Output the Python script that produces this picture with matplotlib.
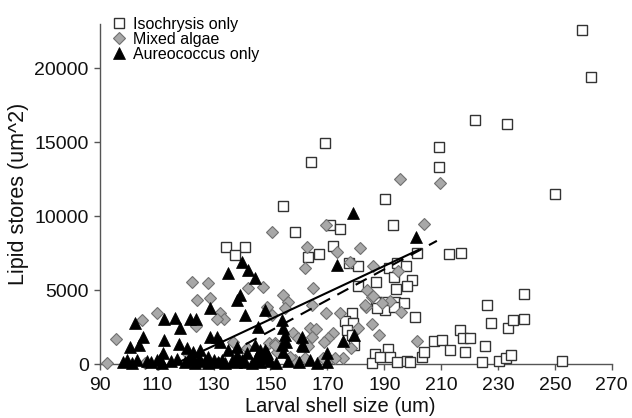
import numpy as np
import matplotlib
matplotlib.use("Agg")
import matplotlib.pyplot as plt

plt.rcParams['font.family'] = ['Liberation Sans', 'DejaVu Sans']

# ---------------- datos ----------------
# Isochrysis only (cuadrados)
iso_x = [259.5, 262.6, 233, 222, 250, 169, 164.2, 209.2, 209.2, 190.2, 154.5, 158.6, 171, 174.4, 193,
         134.3, 141, 137.5, 201.5, 212.7, 217, 163.1, 167, 172, 177.6, 180.7, 191.6, 194.4, 197.6,
         193.4, 199.7, 198, 187, 180.7, 194, 187, 190.2, 193.7, 197, 190.2, 200.8, 187.4, 193.4,
         178.6, 176.1, 178.9, 176.8, 178.6, 179.3, 191.3, 186.7, 185.6, 188.5, 192, 194.4, 197.9,
         199, 203.2, 203.9, 207.4, 210.3, 213, 216.6, 217.6, 220.1, 218.3, 225.4, 224.3, 230.3,
         232.8, 234.5, 226.1, 227.5, 233.5, 235.2, 239.1, 239.1, 252.4]
iso_y = [22600, 19400, 16200, 16500, 11500, 14950, 13650, 14650, 13300, 11150, 10700, 8950, 9420, 9150, 9420,
         7930, 7930, 7390, 7520, 7460, 7500, 7250, 7450, 7950, 6850, 6600, 6500, 6850, 6600,
         5900, 5700, 5300, 5550, 5300, 5100, 4200, 4200, 4200, 4150, 3650, 3200, 3800, 3860,
         3460, 2920, 2780, 2300, 1970, 1290, 1020, 680, 70, 475, 475, 135, 200,
         135, 475, 810, 1560, 1630, 950, 2300, 1760, 1760, 810, 1220, 135, 200,
         410, 610, 4000, 2780, 2440, 2980, 3050, 4750, 200]

# Mixed algae (rombos)
mix_x = [195.5, 209.5, 150.5, 169.5, 204, 162.8, 162, 173.3, 181.4, 178, 186, 194.8, 184, 165, 185.6,
         192, 183.5, 196, 164.5, 169.5, 174.4, 185.6, 180.7, 188.1, 171.9, 170.2, 168.8, 178.3,
         163.8, 166, 164.5, 162.1, 170.5, 175.4, 201.5,
         122.3, 128, 142, 147.3, 124.1, 128.7, 154.3, 148.7, 156.1, 132.2, 133.6, 131.1, 110,
         104.8, 123.8, 95.6, 120.6, 136.8, 141.7, 155, 150.5, 149.4, 151.5, 152.2, 158.6, 156.8,
         157.9, 159.6, 92.5, 105.8, 110.4, 168.4, 172.6, 163.1, 183.2, 189.2, 151.5, 186]
mix_y = [12500, 12270, 8950, 9420, 9450, 7900, 6500, 7600, 7860, 6900, 6600, 6300, 5000, 5150, 4550,
         4270, 3860, 3530, 4000, 3460, 3460, 2710, 2440, 1970, 2100, 1760, 1490, 1080,
         2440, 2370, 1830, 410, 270, 410, 1560,
         5560, 5490, 5150, 5220, 4340, 4470, 4680, 3860, 4200, 3460, 3050, 3050, 3460,
         2980, 2580, 1690, 750, 1490, 1080, 3800, 3320, 1420, 1420, 810, 270, 475,
         2100, 1760, 70, 70, 30, 410, 410, 1220, 4000, 4140, 1290, 4610]

# Aureococcus only (triangulos)
aur_x = [179, 201, 173.3, 179.3, 175.4, 161, 161, 169.8, 166.3,
         139.9, 142, 135, 144.5, 139.2, 138.2, 128.7, 141, 148, 102.3, 112.5, 116.4, 118.1,
         121.6, 123.8, 105.1, 100.5, 103.7, 112.5, 117.8, 120.6, 122.7, 125.2, 128.7, 131.1,
         132.2, 135, 138.2, 112.2, 111.1, 148, 154, 154.3, 155, 155.4, 154, 145.6, 154.3,
         161.4, 147.3, 149.1, 144.5, 146.3, 138.2, 141.7, 145.2, 148.7, 128, 125.2, 122.3,
         98.1, 99.5, 101.3, 103, 106.5, 108, 110, 111.8, 115, 117, 119.9, 121, 123.4, 125, 127,
         128, 130, 131.5, 133, 134, 136.4, 138, 140, 141, 143.4, 145, 146.3, 150, 152, 156,
         160, 164, 170]
aur_y = [10200, 8600, 6700, 1970, 1560, 1830, 1290, 750, 70,
         6920, 6370, 6170, 5830, 4680, 4340, 3800, 3320, 3660, 2780, 3050, 3120, 2440,
         3050, 3050, 1830, 1150, 1290, 1630, 1360, 1080, 810, 950, 1830, 1830,
         1490, 950, 1150, 750, 340, 950, 2980, 2440, 1970, 1490, 1290, 2510, 810,
         1220, 475, 410, 1290, 950, 610, 750, 540, 750, 475, 270, 475,
         150, 300, 100, 250, 200, 120, 300, 80, 200, 350, 150, 280, 100, 320, 180,
         90, 250, 130, 300, 60, 200, 110, 280, 150, 90, 220, 120, 200, 100, 180,
         150, 250, 120]

# rectas de ajuste: pendiente, ordenada, rango de x
ajuste_solido = dict(m=90.0, b=-10467.0, xmin=116.3, xmax=202.0)
ajuste_guiones = dict(m=104.0, b=-13354.0, xmin=128.4, xmax=208.5)

x_ticks = [90, 110, 130, 150, 170, 190, 210, 230, 250, 270]
y_ticks = [0, 5000, 10000, 15000, 20000]

# ---------------- grafico ----------------
fig = plt.figure(figsize=(6.32, 4.18), dpi=100)
ax = fig.add_axes([0.158, 0.129, 0.81, 0.814])

ax.plot(iso_x, iso_y, linestyle='none', marker='s', markersize=7.8, markerfacecolor='white',
        markeredgecolor='#333333', markeredgewidth=1.0, clip_on=False, label='Isochrysis only', zorder=3)
ax.plot(mix_x, mix_y, linestyle='none', marker='D', markersize=6, markerfacecolor='#a8a8a8',
        markeredgecolor='#707070', markeredgewidth=0.8, clip_on=False, label='Mixed algae', zorder=3)
ax.plot(aur_x, aur_y, linestyle='none', marker='^', markersize=8, markerfacecolor='black',
        markeredgecolor='black', markeredgewidth=0.5, clip_on=False, label='Aureococcus only', zorder=4)

for aj, ls in ((ajuste_solido, '-'), (ajuste_guiones, (0, (6, 4)))):
    xx = np.array([aj['xmin'], aj['xmax']])
    ax.plot(xx, aj['m'] * xx + aj['b'], color='black', linewidth=1.5, linestyle=ls, zorder=5)

ax.set_xlim(90, 270)
ax.set_ylim(0, 23000)
ax.set_xticks(x_ticks)
ax.set_yticks(y_ticks)
ax.tick_params(axis='both', direction='out', length=4, width=1, color='#555555',
               labelsize=14, labelcolor='#111111')
ax.tick_params(axis='x', pad=5)
ax.tick_params(axis='y', pad=4)
for s in ('top', 'right'):
    ax.spines[s].set_visible(False)
for s in ('left', 'bottom'):
    ax.spines[s].set_color('#555555')
    ax.spines[s].set_linewidth(1)

ax.set_xlabel('Larval shell size (um)', fontsize=14.5, color='#111111', labelpad=-1)
ax.xaxis.set_label_coords(0.47, -0.097)
ax.set_ylabel('Lipid stores (um^2)', fontsize=15.5, color='#111111', labelpad=4)

leg = fig.legend(loc='upper left', bbox_to_anchor=(0.158, 0.983), frameon=False, fontsize=11.5,
                 handletextpad=0.25, labelspacing=0.0, borderaxespad=0.2, handlelength=1.2)

fig.savefig('out.png', dpi=100)
